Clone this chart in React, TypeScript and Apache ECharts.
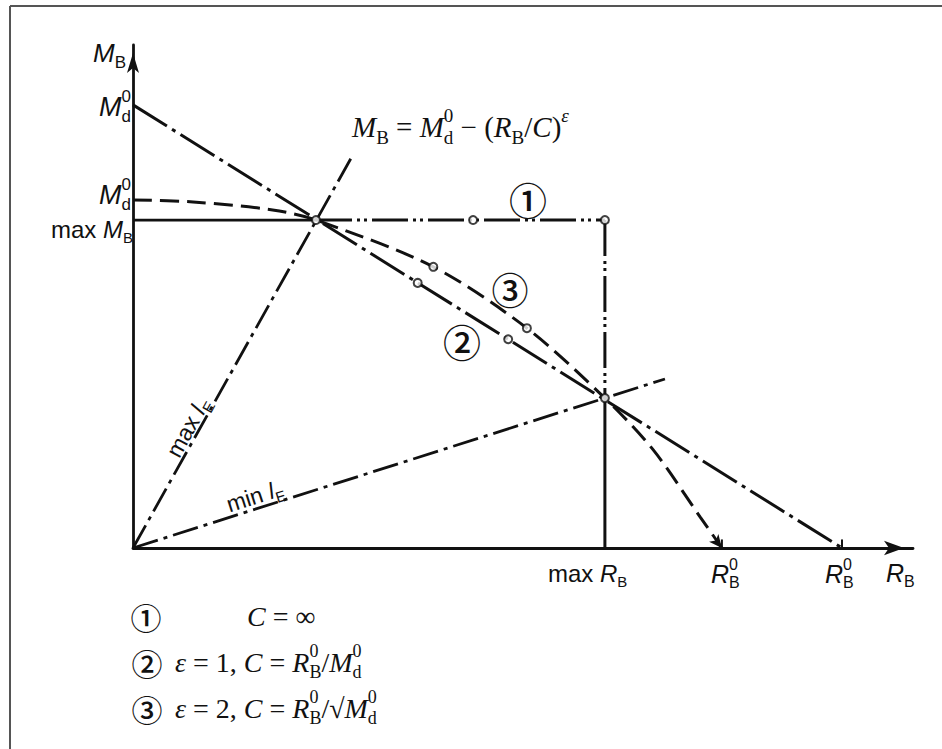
import React, { useEffect, useRef } from "react";
import * as echarts from "echarts";

// ---- data (chart units: x 0..100, y 0..100) ----
const X_MAX = 100;
const Y_MAX = 100;
const line2Data = [[0, 88.1], [90.9, 0]];
const curve3Data = [
  [0, 69.2], [7.7, 68.8], [17.9, 67.2], [23.46, 65.2], [38.5, 55.9],
  [50.5, 43.7], [60.5, 29.8], [66.7, 19.5], [72.7, 6.2], [75.5, 0],
];
const maxMbSolid = [[0, 65.2], [23.46, 65.2]];
const maxMbDash = [[23.46, 65.2], [60.5, 65.2]];
const maxRbDash = [[60.5, 65.2], [60.5, 29.8]];
const maxRbSolid = [[60.5, 29.8], [60.5, 0]];
const maxIeData = [[0, 0], [28.1, 77.9]];
const minIeData = [[0, 0], [68.2, 33.6]];
const tick3Data = [[75.5, 0], [75.5, 1.7]];
const tick2Data = [[90.9, 0], [90.9, 1.7]];
const markerData = [
  [23.46, 65.2], [43.6, 65.2], [60.5, 65.2], [36.5, 52.7], [48.1, 41.5],
  [38.5, 55.9], [50.5, 43.7], [60.5, 29.8],
];

const INK = "#111";
const SANS = '"Liberation Sans", Arial, sans-serif';
const SERIF = '"Liberation Serif", "Times New Roman", serif';
const CJK = '"Noto Sans CJK JP", "Noto Sans CJK SC", sans-serif';

let measureCtx: CanvasRenderingContext2D | null = null;
function mw(font: string, text: string): number {
  if (!measureCtx) measureCtx = document.createElement("canvas").getContext("2d");
  if (!measureCtx) return text.length * 10;
  measureCtx.font = font;
  return measureCtx.measureText(text).width;
}

type Tok = [string, string?, string?];
function mathGroup(
  toks: Tok[], x: number, y: number, size: number, family: string,
  align: "left" | "center" | "right" = "left", rotDeg = 0
) {
  const kids: any[] = [];
  let cx = 0;
  const small = Math.round(size * 0.64);
  const subDy = size * 0.35;
  const supDy = -size * 0.4;
  const mk = (t: string, xx: number, yy: number, font: string) => ({
    type: "text", x: xx, y: yy,
    style: { text: t, font, fill: INK, textAlign: "left", textVerticalAlign: "middle" },
  });
  for (const [t, kk, e] of toks) {
    const k = kk || "n";
    if (k === "g") { cx += Number(t); continue; }
    if (k === "n" || k === "i") {
      const f = `${k === "i" ? "italic " : ""}${size}px ${family}`;
      kids.push(mk(t, cx, 0, f));
      cx += mw(f, t);
    } else if (k === "b" || k === "p" || k === "pi") {
      const f = `${k === "pi" ? "italic " : ""}${small}px ${family}`;
      kids.push(mk(t, cx, k === "b" ? subDy : supDy, f));
      cx += mw(f, t);
    } else if (k === "bp") {
      const f = `${small}px ${family}`;
      kids.push(mk(t, cx, subDy, f));
      kids.push(mk(e || "", cx, supDy, f));
      cx += Math.max(mw(f, t), mw(f, e || ""));
    }
  }
  const shift = align === "center" ? -cx / 2 : align === "right" ? -cx : 0;
  kids.forEach((k) => (k.x += shift));
  return { type: "group", x, y, rotation: (rotDeg * Math.PI) / 180, children: kids };
}

function circled(ch: string, x: number, y: number, size: number) {
  return {
    type: "text", x, y,
    style: {
      text: ch, font: `500 ${size}px ${CJK}`, fill: INK,
      textAlign: "center", textVerticalAlign: "middle",
    },
  };
}

const DASH_LONG = [40, 6, 4, 6];
const DASH_DOT = [26, 6, 4, 6];
const DASH_DOT_DOT = [36, 5, 3, 4, 3, 5];
const DASHED = [19, 8];

function lineSeries(data: any[], type: any, width = 3, extra: any = {}) {
  return {
    type: "line", data, symbol: "none", silent: true,
    lineStyle: { color: INK, width, type, cap: "butt" },
    ...extra,
  };
}

export default function App() {
  const ref = useRef<HTMLDivElement>(null);
  useEffect(() => {
    if (!ref.current) return;
    const chart = echarts.init(ref.current, null, { renderer: "svg" });
    const curveWithArrow = curve3Data.map((p, i) =>
      i === curve3Data.length - 1
        ? { value: p, symbol: "arrow", symbolSize: [9, 13], symbolRotate: 219, itemStyle: { color: INK } }
        : p
    );
    const axisCommon = {
      type: "value",
      axisTick: { show: false },
      axisLabel: { show: false },
      splitLine: { show: false },
    };
    chart.setOption({
      animation: false,
      backgroundColor: "#fff",
      grid: { left: 133, top: 45, width: 780, height: 503 },
      xAxis: {
        ...axisCommon, min: 0, max: X_MAX,
        axisLine: {
          show: true, onZero: false, symbol: ["none", "arrow"], symbolSize: [11, 20],
          symbolOffset: [0, -9], lineStyle: { color: INK, width: 2.8 },
        },
      },
      yAxis: {
        ...axisCommon, min: 0, max: Y_MAX,
        axisLine: {
          show: true, onZero: false, symbol: ["none", "arrow"], symbolSize: [9, 20],
          symbolOffset: [0, -8], lineStyle: { color: INK, width: 2.8 },
        },
      },
      series: [
        lineSeries(line2Data, DASH_LONG),
        lineSeries(curveWithArrow, DASHED, 3, { smooth: 0.3, showSymbol: true }),
        lineSeries(maxMbSolid, "solid", 2.8),
        lineSeries(maxMbDash, DASH_DOT_DOT, 3),
        lineSeries(maxRbDash, DASH_DOT_DOT, 3),
        lineSeries(maxRbSolid, "solid", 3),
        lineSeries(maxIeData, DASH_DOT, 2.8),
        lineSeries(minIeData, DASH_DOT, 2.8),
        lineSeries(tick3Data, "solid", 2),
        lineSeries(tick2Data, "solid", 2),
        {
          type: "scatter", data: markerData, symbol: "circle", symbolSize: 8, silent: true, z: 5,
          itemStyle: { color: "#fff", borderColor: INK, borderWidth: 2 },
        },
      ],
      graphic: [
        { type: "line", shape: { x1: 10, y1: 6, x2: 942, y2: 6 }, style: { stroke: "#555", lineWidth: 2 } },
        { type: "line", shape: { x1: 10, y1: 6, x2: 10, y2: 749 }, style: { stroke: "#555", lineWidth: 2 } },
        // axis labels
        mathGroup([["M", "i"], ["B", "b"]], 126, 53, 26, SANS, "right"),
        mathGroup([["M", "i"], ["d", "bp", "0"]], 131, 107, 27, SANS, "right"),
        mathGroup([["M", "i"], ["d", "bp", "0"]], 131, 195, 27, SANS, "right"),
        mathGroup([["max "], ["M", "i"], ["B", "b"]], 133, 229, 24, SANS, "right"),
        mathGroup([["max "], ["R", "i"], ["B", "b"]], 548, 573, 24, SANS, "left"),
        mathGroup([["R", "i"], ["B", "bp", "0"]], 711, 574, 25, SANS, "left"),
        mathGroup([["R", "i"], ["B", "bp", "0"]], 825, 574, 25, SANS, "left"),
        mathGroup([["R", "i"], ["B", "b"]], 886, 573, 25, SANS, "left"),
        mathGroup([["max "], ["l", "i"], ["E", "b"]], 188, 427, 23, SANS, "center", 60.8),
        mathGroup([["min "], ["l", "i"], ["E", "b"]], 255, 496, 23, SANS, "center", 17.6),
        // formula
        mathGroup(
          [["M", "i"], ["B", "b"], [" = "], ["M", "i"], ["d", "bp", "0"], [" − ("], ["R", "i"], ["B", "b"],
           ["/"], ["C", "i"], [")"], ["ε", "pi"]],
          352, 127, 29, SERIF, "left"
        ),
        circled("①", 528, 198, 38),
        circled("③", 510, 289, 37),
        circled("②", 462, 340, 38),
        // legend
        circled("①", 146, 616, 31),
        mathGroup([["C", "i"], [" = ∞"]], 247, 616, 28, SERIF, "left"),
        circled("②", 147, 662, 31),
        mathGroup(
          [["ε", "i"], [" = 1, "], ["C", "i"], [" = "], ["R", "i"], ["B", "bp", "0"], ["/"], ["M", "i"], ["d", "bp", "0"]],
          175, 662, 28, SERIF, "left"
        ),
        circled("③", 147, 708, 31),
        mathGroup(
          [["ε", "i"], [" = 2, "], ["C", "i"], [" = "], ["R", "i"], ["B", "bp", "0"], ["/√"], ["M", "i"], ["d", "bp", "0"]],
          175, 708, 28, SERIF, "left"
        ),
      ],
    });
    return () => chart.dispose();
  }, []);
  return (
    <div
      ref={ref}
      style={{ position: "absolute", left: 0, top: 0, width: 942, height: 749, background: "#fff" }}
    />
  );
}
